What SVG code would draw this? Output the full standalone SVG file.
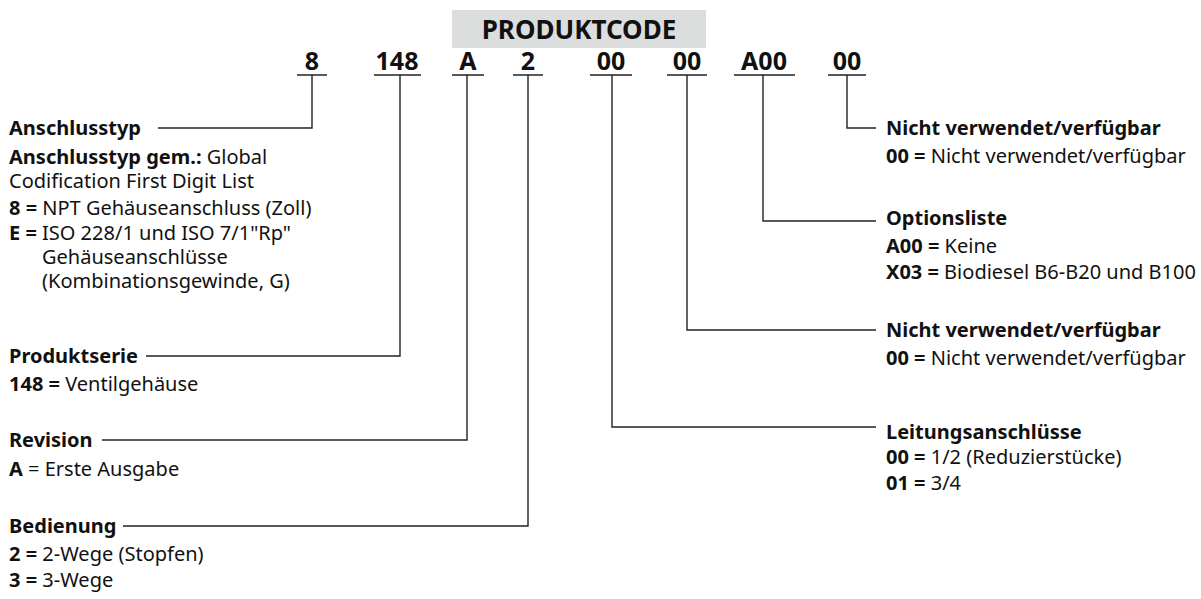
<svg xmlns="http://www.w3.org/2000/svg" width="1201" height="599" viewBox="0 0 1201 599">
<style>
text{font-family:"Noto Sans","Open Sans","DejaVu Sans",sans-serif;fill:#111;}
.t{font-size:20px;}
.b{font-weight:bold;}
.code{font-size:25px;font-weight:bold;text-anchor:middle;}
.hdr{font-size:26px;font-weight:bold;text-anchor:middle;}
.ln{fill:none;stroke:#222;stroke-width:1.4;}
</style>
<rect width="1201" height="599" fill="#fff"/>
<g id="header">
<rect x="452" y="10" width="254" height="38" fill="#dcdddd"/>
<text class="hdr" x="579" y="39">PRODUKTCODE</text>
</g>
<g id="code">
<text class="code" x="312" y="70">8</text>
<text class="code" x="397" y="70">148</text>
<text class="code" x="468" y="70">A</text>
<text class="code" x="528" y="70">2</text>
<text class="code" x="611" y="70">00</text>
<text class="code" x="687" y="70">00</text>
<text class="code" x="764" y="70">A00</text>
<text class="code" x="847" y="70">00</text>
</g>
<g id="connectors">
<path class="ln" d="M297 75H327M374 75H421M452 75H484M513 75H543M590 75H632M667 75H707M734 75H795M828 75H866"/>
<path class="ln" d="M312 75V128H158"/>
<path class="ln" d="M400 75V356H146"/>
<path class="ln" d="M467 75V440H102"/>
<path class="ln" d="M528 75V526H123"/>
<path class="ln" d="M847 75V128H876"/>
<path class="ln" d="M763 75V221H876"/>
<path class="ln" d="M687 75V330H876"/>
<path class="ln" d="M612 75V427H876"/>
</g>
<g id="anschlusstyp">
<text class="t b" x="9" y="135">Anschlusstyp</text>
<text class="t" x="9" y="164"><tspan class="b">Anschlusstyp gem.:</tspan> Global</text>
<text class="t" x="9" y="188">Codification First Digit List</text>
<text class="t" x="9" y="215"><tspan class="b">8 =</tspan> NPT Gehäuseanschluss (Zoll)</text>
<text class="t" x="9" y="240"><tspan class="b">E =</tspan> ISO 228/1 und ISO 7/1"Rp"</text>
<text class="t" x="42" y="264">Gehäuseanschlüsse</text>
<text class="t" x="42" y="288">(Kombinationsgewinde, G)</text>
</g>
<g id="produktserie">
<text class="t b" x="9" y="363">Produktserie</text>
<text class="t" x="9" y="391"><tspan class="b">148 =</tspan> Ventilgehäuse</text>
</g>
<g id="revision">
<text class="t b" x="9" y="447">Revision</text>
<text class="t" x="9" y="476"><tspan class="b">A</tspan> = Erste Ausgabe</text>
</g>
<g id="bedienung">
<text class="t b" x="9" y="533">Bedienung</text>
<text class="t" x="9" y="561"><tspan class="b">2 =</tspan> 2-Wege (Stopfen)</text>
<text class="t" x="9" y="587"><tspan class="b">3 =</tspan> 3-Wege</text>
</g>
<g id="nicht1">
<text class="t b" x="886" y="135">Nicht verwendet/verfügbar</text>
<text class="t" x="886" y="163"><tspan class="b">00 =</tspan> Nicht verwendet/verfügbar</text>
</g>
<g id="optionsliste">
<text class="t b" x="886" y="225">Optionsliste</text>
<text class="t" x="886" y="253"><tspan class="b">A00 =</tspan> Keine</text>
<text class="t" x="886" y="279"><tspan class="b">X03 =</tspan> Biodiesel B6-B20 und B100</text>
</g>
<g id="nicht2">
<text class="t b" x="886" y="337">Nicht verwendet/verfügbar</text>
<text class="t" x="886" y="365"><tspan class="b">00 =</tspan> Nicht verwendet/verfügbar</text>
</g>
<g id="leitung">
<text class="t b" x="886" y="439">Leitungsanschlüsse</text>
<text class="t" x="886" y="464"><tspan class="b">00 =</tspan> 1/2 (Reduzierstücke)</text>
<text class="t" x="886" y="490"><tspan class="b">01 =</tspan> 3/4</text>
</g>
</svg>
